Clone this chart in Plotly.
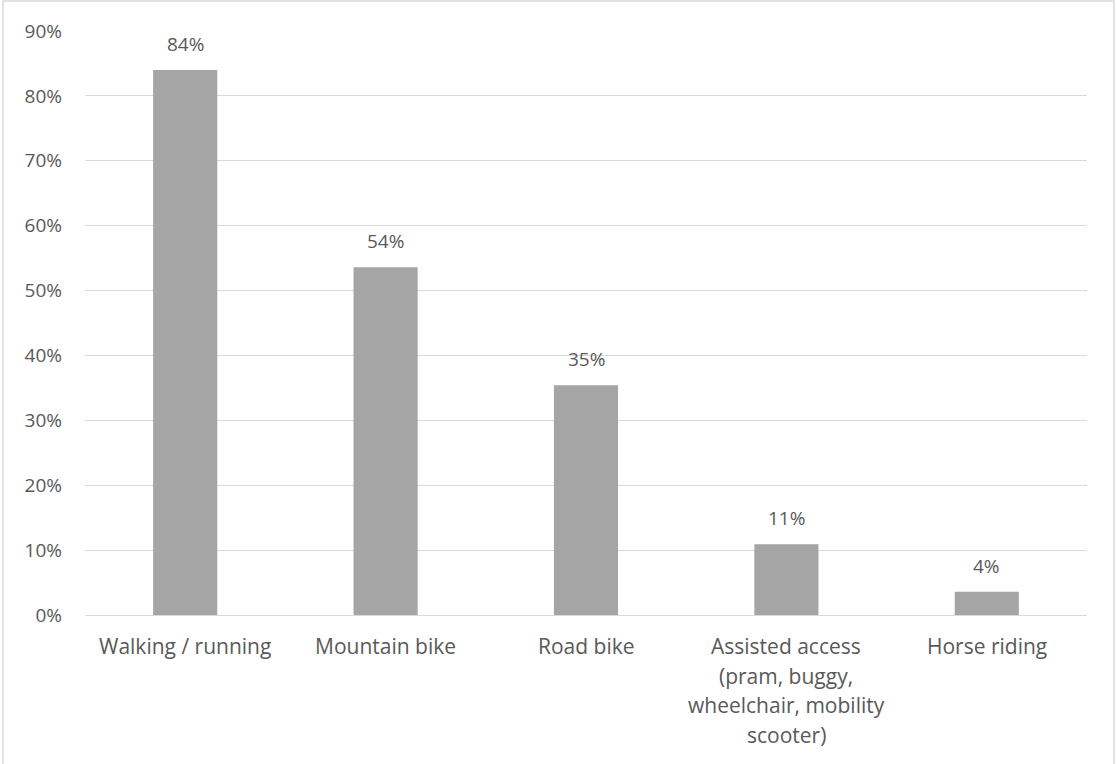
import plotly.graph_objects as go

# Share of respondents using the trail for each activity
categories = [
    "Walking / running",
    "Mountain bike",
    "Road bike",
    "Assisted access",
    "Horse riding",
]
# Category labels, one entry per text line
category_lines = [
    ["Walking / running"],
    ["Mountain bike"],
    ["Road bike"],
    ["Assisted access", "(pram, buggy,", "wheelchair, mobility", "scooter)"],
    ["Horse riding"],
]
shares = [84.0, 53.6, 35.4, 10.9, 3.6]
y_ticks = list(range(0, 100, 10))
y_tick_labels = [f"{v}%" for v in y_ticks]

W, H = 1116, 764
L, R, T, B = 85, 29, 31, 149
TEXT = "#595959"
FONT = "Open Sans"
FS = 19        # numbers (ticks and value labels)
FS_CAT = 21    # category labels
LINE_GAP = 29.5

fig = go.Figure(
    go.Bar(
        x=categories,
        y=shares,
        marker=dict(color="#a5a5a5", line=dict(width=0)),
        hoverinfo="x+y",
    )
)

annotations = []
# value labels above each bar
for cat, val in zip(categories, shares):
    annotations.append(dict(
        x=cat, y=val, xref="x", yref="y",
        text=f"{val:.0f}%", showarrow=False,
        xanchor="center", yanchor="middle", yshift=26,
        font=dict(family=FONT, size=FS, color=TEXT),
    ))
# category labels below the axis, with Office-style line spacing
for cat, lines in zip(categories, category_lines):
    for i, line in enumerate(lines):
        annotations.append(dict(
            x=cat, y=0, xref="x", yref="y",
            text=line, showarrow=False,
            xanchor="center", yanchor="middle",
            yshift=-(31 + LINE_GAP * i),
            font=dict(family=FONT, size=FS_CAT, color=TEXT),
        ))

fig.update_layout(
    width=W,
    height=H,
    margin=dict(l=L, r=R, t=T, b=B, pad=0),
    paper_bgcolor="white",
    plot_bgcolor="white",
    bargap=0.68,
    showlegend=False,
    font=dict(family=FONT, size=FS, color=TEXT),
    xaxis=dict(
        showgrid=False,
        showline=False,
        ticks="",
        showticklabels=False,
        fixedrange=True,
    ),
    yaxis=dict(
        range=[0, 90],
        tickvals=y_ticks,
        ticktext=y_tick_labels,
        showgrid=True,
        gridcolor="#d9d9d9",
        gridwidth=1.3,
        zeroline=True,
        zerolinecolor="#d9d9d9",
        zerolinewidth=1.3,
        showline=False,
        ticks="",
        ticklabelstandoff=22,
        tickfont=dict(family=FONT, size=FS, color=TEXT),
        fixedrange=True,
    ),
    annotations=annotations,
    shapes=[
        # chart frame (open at the bottom edge)
        dict(type="rect", xref="paper", yref="paper",
             x0=(3 - L) / (W - L - R), x1=(1114 - L) / (W - L - R),
             y0=-0.5, y1=1 + (T - 1) / (H - T - B),
             line=dict(color="#d9d9d9", width=1.5), fillcolor="rgba(0,0,0,0)",
             layer="below"),
    ],
)

fig.write_html("out.html")
